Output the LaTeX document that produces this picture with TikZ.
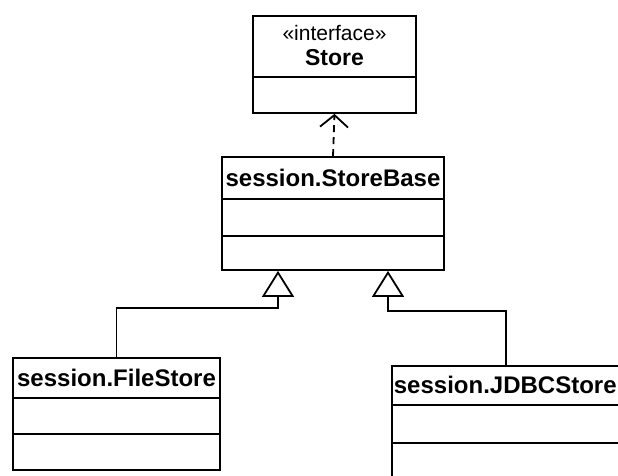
\documentclass[tikz,border=0pt]{standalone}
\usepackage{fontspec}
\setmainfont{Liberation Sans}
\usetikzlibrary{arrows.meta}

\tikzset{
  classbox/.style={draw, inner sep=0pt, fill=white},
  classname/.style={font=\fontsize{24}{26}\selectfont\bfseries, inner sep=0pt},
  realizes/.style={dash pattern=on 7pt off 5pt, -{Straight Barb[length=12pt,width=28pt,line width=1.8pt]}},
  inherits/.style={-{Triangle[open,length=26pt,width=32pt,fill=white,line width=1.8pt]}},
}

\begin{document}
\begin{tikzpicture}[x=1pt, y=1pt, line width=1.8pt]
	\clip (0,0) rectangle (618,476);
	\fill[white] (0,0) rectangle (618,476);
	% interface
	\node[classbox, minimum width=163pt, minimum height=97pt] (store) at (334.5,411.5) {};
	\draw (store.west |- 0,399) -- (store.east |- 0,399);
	\node[font=\fontsize{21}{23}\selectfont, inner sep=0pt] (storestereo) at (334.5,443) {«interface»};
	\node[classname, font=\fontsize{23}{25}\selectfont\bfseries] (storename) at (334.5,418) {Store};
	% base class
	\node[classbox, minimum width=222pt, minimum height=113pt] (storebase) at (333,262.5) {};
	\draw (storebase.west |- 0,277) -- (storebase.east |- 0,277);
	\draw (storebase.west |- 0,240) -- (storebase.east |- 0,240);
	\node[classname] (storebasename) at (333,298) {session.StoreBase};
	% subclasses
	\node[classbox, minimum width=207pt, minimum height=112pt] (filestore) at (116.5,62) {};
	\draw (filestore.west |- 0,78) -- (filestore.east |- 0,78);
	\draw (filestore.west |- 0,42) -- (filestore.east |- 0,42);
	\node[classname] (filestorename) at (116.5,98) {session.FileStore};
	\node[classbox, minimum width=268pt, minimum height=140pt] (jdbcstore) at (526,40) {};
	\draw (jdbcstore.west |- 0,71) -- (jdbcstore.east |- 0,71);
	\draw (jdbcstore.west |- 0,33) -- (jdbcstore.east |- 0,33);
	\node[classname, anchor=west] (jdbcstorename) at (393,91) {session.JDBCStore};
	% connectors
	\coordinate (lftjoin) at (278,168);
	\coordinate (rgtjoin) at (388,165);
	\draw[realizes] (storebase.north) -- (store.south);
	\draw[inherits] (filestore.north) |- (lftjoin) -- (lftjoin |- storebase.south);
	\draw[inherits] ([xshift=-20pt]jdbcstore.north) |- (rgtjoin) -- (rgtjoin |- storebase.south);
\end{tikzpicture}
\end{document}
